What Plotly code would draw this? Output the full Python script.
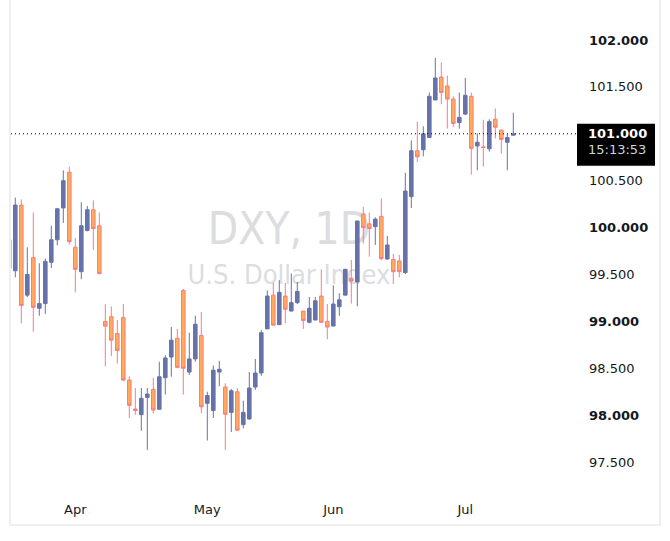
import plotly.graph_objects as go
import pandas as pd

# ---- data -------------------------------------------------------------
dates = pd.bdate_range("2020-03-17", periods=85).strftime("%Y-%m-%d").tolist()

open_ = [99.87, 99.54, 100.24, 99.28, 99.68, 99.14, 99.19, 99.63, 99.87, 100.21,
         100.59, 99.79, 99.53, 99.97, 100.19, 100.02, 99.00, 99.05, 98.87, 99.04,
         98.375, 98.066, 98.005, 98.19, 98.276, 98.063, 98.40, 98.62, 98.82, 99.33,
         98.46, 98.60, 98.85, 98.127, 98.05, 98.46, 98.30, 98.03, 98.25, 97.90,
         97.96, 98.30, 98.45, 98.92, 99.28, 98.965, 99.27, 99.11, 99.20, 99.11,
         98.99, 99.015, 99.27, 99.00, 98.95, 99.157, 99.28, 99.46, 99.42, 100.145,
         100.04, 100.01, 100.12, 99.665, 99.66, 99.645, 99.52, 100.33, 100.82, 100.83,
         100.96, 101.36, 101.605, 101.51, 101.37, 101.12, 101.21, 101.40, 100.87, 100.86,
         100.84, 101.155, 101.04, 100.91, 100.985]
high = [99.95, 100.32, 100.30, 99.79, 100.16, 99.62, 99.67, 100.02, 100.21, 100.61,
        100.65, 99.89, 100.27, 100.23, 100.29, 100.16, 99.185, 99.16, 99.015, 99.185,
        98.415, 98.29, 98.29, 98.29, 98.40, 98.57, 98.64, 98.94, 98.92, 99.345,
        98.88, 99.06, 99.10, 98.25, 98.53, 98.58, 98.34, 98.28, 98.29, 98.155,
        98.46, 98.60, 98.91, 99.33, 99.41, 99.44, 99.41, 99.51, 99.42, 99.11,
        99.26, 99.26, 99.555, 99.185, 99.385, 99.30, 99.56, 99.655, 100.07, 100.22,
        100.16, 100.11, 100.31, 99.91, 99.72, 99.71, 100.585, 100.93, 101.13, 101.08,
        101.44, 101.81, 101.76, 101.62, 101.40, 101.44, 101.595, 101.44, 101.005, 101.15,
        101.155, 101.27, 101.04, 101.00, 101.225]
low = [99.50, 99.47, 98.98, 99.26, 98.89, 99.06, 99.08, 99.57, 99.81, 100.05,
       99.82, 99.31, 99.45, 99.96, 99.76, 99.50, 98.52, 98.63, 98.55, 98.36,
       97.97, 98.005, 97.835, 97.63, 98.02, 98.06, 98.22, 98.41, 98.50, 98.22,
       98.43, 98.57, 98.02, 97.73, 97.97, 98.31, 97.63, 97.82, 97.84, 97.86,
       97.95, 98.27, 98.42, 98.92, 98.96, 98.965, 98.98, 99.11, 99.185, 98.92,
       98.98, 99.01, 98.99, 98.81, 98.95, 99.06, 99.28, 99.19, 99.16, 99.83,
       99.69, 99.815, 99.65, 99.66, 99.40, 99.47, 99.505, 100.21, 100.70, 100.76,
       100.96, 101.36, 101.315, 101.055, 101.075, 101.055, 101.20, 100.565, 100.61, 100.65,
       100.81, 100.95, 100.79, 100.61, 100.985]
close = [99.57, 100.24, 99.17, 99.50, 99.15, 99.19, 99.64, 99.87, 100.20, 100.50,
         99.85, 99.555, 100.02, 100.19, 99.99, 99.51, 98.95, 98.80, 98.69, 98.375,
         98.105, 98.05, 98.18, 98.226, 98.055, 98.41, 98.61, 98.80, 98.51, 98.50,
         98.60, 98.97, 98.09, 98.21, 98.48, 98.49, 98.01, 98.26, 97.84, 98.03,
         98.29, 98.45, 98.88, 99.27, 98.96, 99.31, 99.13, 99.20, 99.32, 99.01,
         99.14, 99.22, 98.99, 98.94, 99.185, 99.23, 99.555, 99.43, 100.07, 100.00,
         99.99, 100.09, 99.67, 99.815, 99.53, 99.53, 100.39, 100.82, 100.755, 101.00,
         101.40, 101.595, 101.44, 101.37, 101.11, 101.175, 101.41, 100.845, 100.91, 100.855,
         101.13, 101.07, 100.94, 100.96, 101.00]

month_ticks = ["2020-04-01", "2020-05-01", "2020-06-01", "2020-07-01"]
month_labels = ["Apr", "May", "Jun", "Jul"]
price_ticks = [97.5, 98.0, 98.5, 99.0, 99.5, 100.0, 100.5, 101.0, 101.5, 102.0]
price_labels = [("<b>%.3f</b>" if v == int(v) else "%.3f") % v for v in price_ticks]
symbol = "DXY, 1D"
description = "U.S. Dollar Index"
countdown = "15:13:53"

UP = "#6673AA"
DOWN_FILL = "#FFAB58"
DOWN_LINE = "#F87B85"
FONT = "DejaVu Sans"
TEXT = "#131722"
FRAME = "#EFEFEF"
WATERMARK = "#DCDDE0"

# ---- figure -------------------------------------------------------------
W, H = 670, 541
ML, MR, MT, MB = 11, 93, 0, 51
pw = W - ML - MR
ph = H - MT - MB

fig = go.Figure(go.Candlestick(
    x=dates, open=open_, high=high, low=low, close=close,
    increasing=dict(line=dict(color=UP, width=1), fillcolor=UP),
    decreasing=dict(line=dict(color=DOWN_LINE, width=1), fillcolor=DOWN_FILL),
    whiskerwidth=0, hoverinfo="skip", showlegend=False,
))

last = close[-1]

def px_x(p):
    return (p - ML) / pw

def px_y(p):
    return 1 - (p - MT) / ph

WM_FONT = "Liberation Sans Narrow, DejaVu Sans Condensed, Liberation Sans, sans-serif"
shapes = [
    # watermark (below candles)
    dict(type="rect", xref="paper", yref="paper", x0=px_x(189), x1=px_x(389),
         y0=px_y(250), y1=px_y(200), line=dict(width=0), fillcolor="rgba(0,0,0,0)",
         layer="below",
         label=dict(text=symbol, textposition="middle center",
                    font=dict(family=WM_FONT, size=44, color=WATERMARK))),
    dict(type="rect", xref="paper", yref="paper", x0=px_x(189), x1=px_x(389),
         y0=px_y(286), y1=px_y(258), line=dict(width=0), fillcolor="rgba(0,0,0,0)",
         layer="below",
         label=dict(text=description, textposition="middle center",
                    font=dict(family=WM_FONT, size=27, color=WATERMARK))),
    # last price dotted line
    dict(type="line", xref="paper", yref="y", x0=0, x1=1, y0=last, y1=last,
         line=dict(color="#000000", width=1, dash="1px,3px")),
    # last price label box
    dict(type="rect", xref="paper", yref="y", ysizemode="pixel", yanchor=last,
         x0=1, x1=px_x(655), y0=10, y1=-32, line=dict(width=0), fillcolor="#000000"),
    # frame
    dict(type="line", xref="paper", yref="paper", x0=px_x(10), x1=px_x(10),
         y0=px_y(0), y1=px_y(526), line=dict(color=FRAME, width=2)),
    dict(type="line", xref="paper", yref="paper", x0=px_x(660), x1=px_x(660),
         y0=px_y(0), y1=px_y(526), line=dict(color=FRAME, width=2)),
    dict(type="line", xref="paper", yref="paper", x0=px_x(9), x1=px_x(661),
         y0=px_y(525), y1=px_y(525), line=dict(color=FRAME, width=2)),
]

annotations = [
    dict(xref="paper", yref="y", x=px_x(586), y=last, xanchor="left", yanchor="middle",
         text="<b>%.3f</b>" % last, showarrow=False, yshift=0,
         font=dict(family=FONT, size=13, color="#FFFFFF")),
    dict(xref="paper", yref="y", x=px_x(586), y=last, xanchor="left", yanchor="middle",
         text=countdown, showarrow=False, yshift=-16,
         font=dict(family=FONT, size=13, color="#D1D4DC")),
]

fig.update_layout(
    width=W, height=H,
    margin=dict(l=ML, r=MR, t=MT, b=MB, pad=0),
    paper_bgcolor="#FFFFFF", plot_bgcolor="#FFFFFF",
    shapes=shapes, annotations=annotations,
    boxgap=0.15,
    xaxis=dict(type="category", categoryorder="array", categoryarray=dates,
               range=[0.283, 0.283 + pw / 6.0],
               tickmode="array", tickvals=month_ticks, ticktext=month_labels,
               showgrid=False, zeroline=False, showline=False, ticks="",
               rangeslider=dict(visible=False), ticklabelstandoff=10,
               tickfont=dict(family=FONT, size=13, color=TEXT)),
    yaxis=dict(side="right", range=[102 - 450 / 93.8, 102 + 40 / 93.8],
               tickmode="array", tickvals=price_ticks, ticktext=price_labels,
               showgrid=False, zeroline=False, showline=False, ticks="",
               ticklabelstandoff=11,
               tickfont=dict(family=FONT, size=13, color=TEXT)),
    font=dict(family=FONT, color=TEXT),
)

fig.write_html("out.html")
